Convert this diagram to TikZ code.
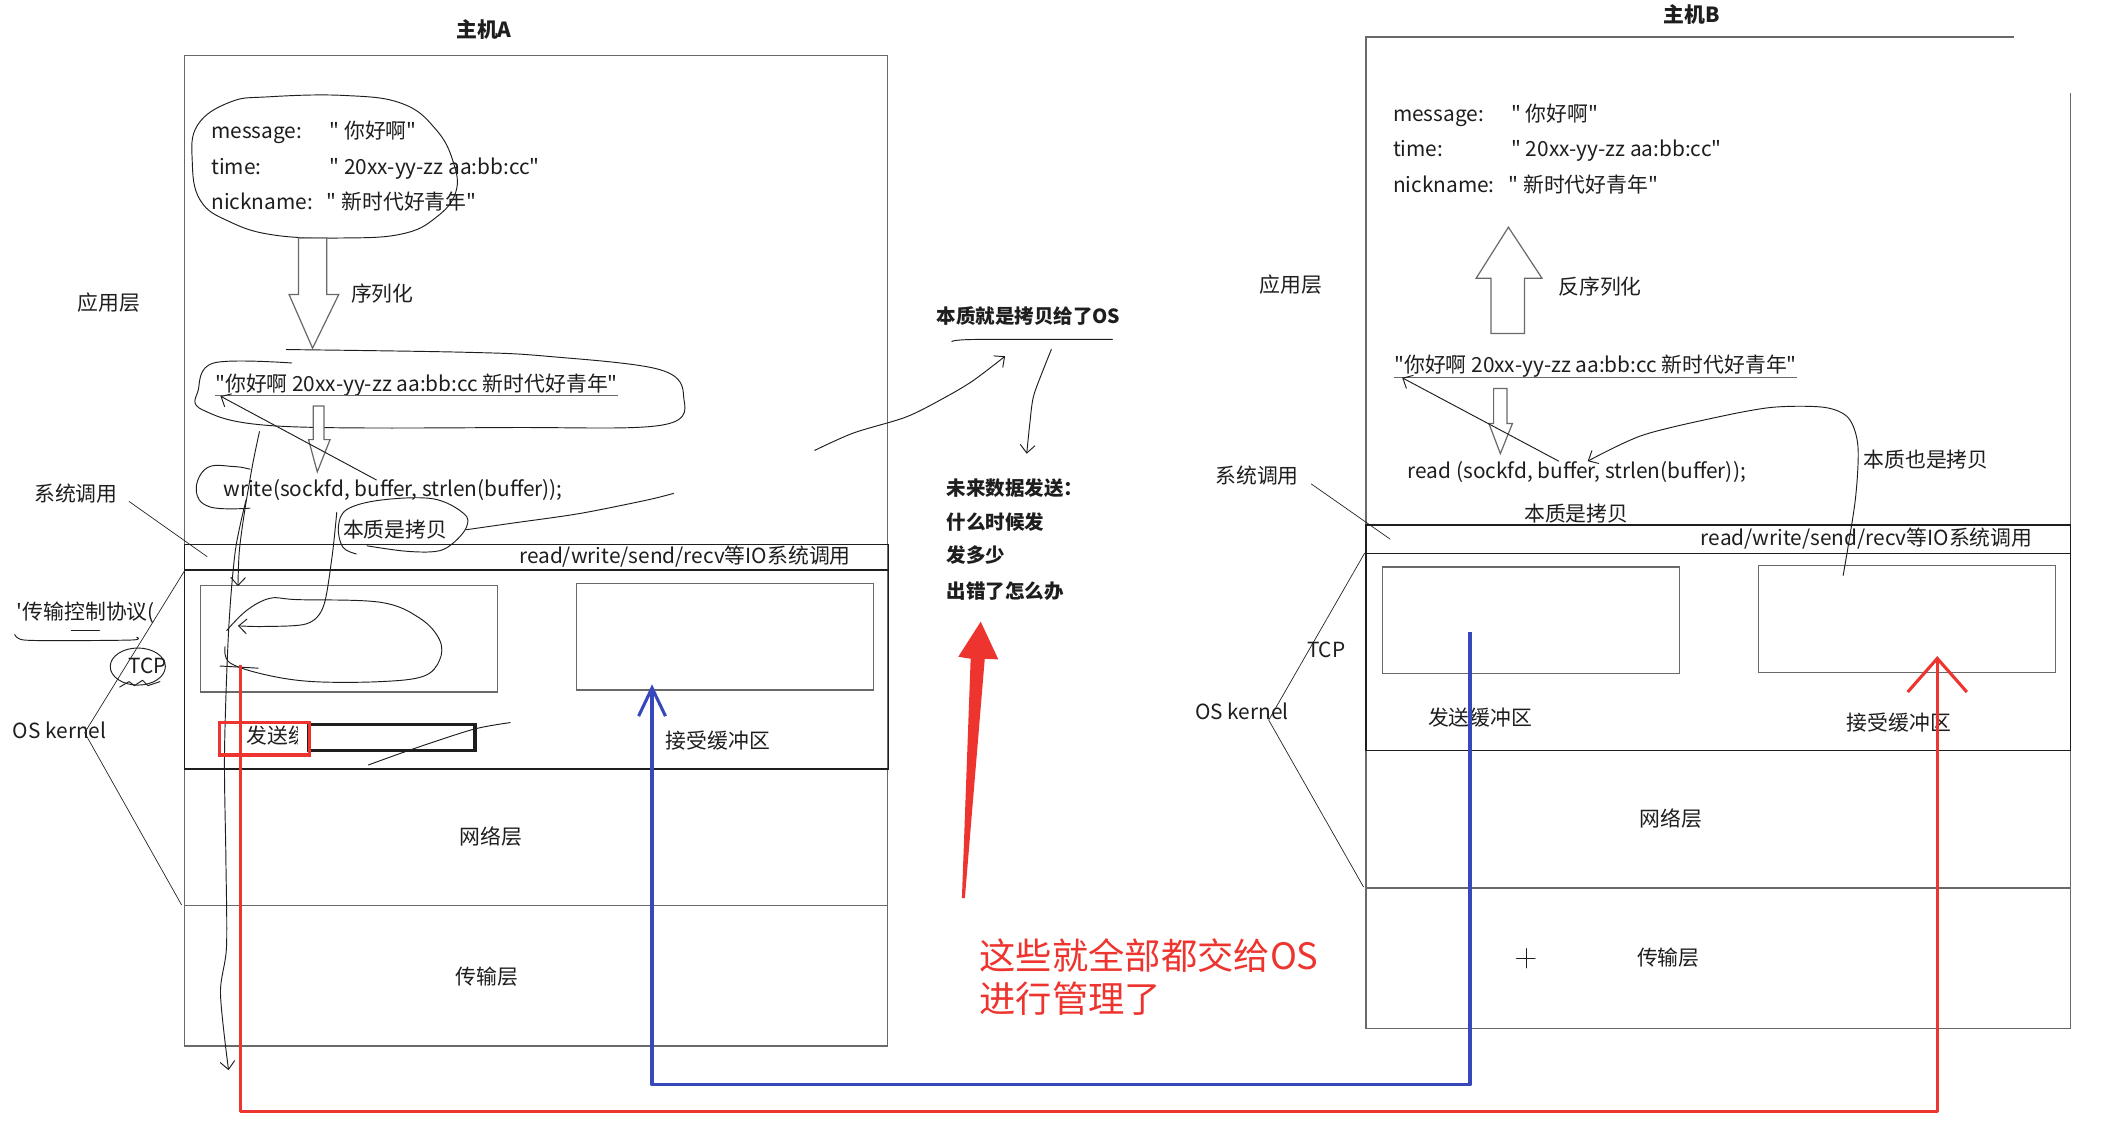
\documentclass[tikz,border=0pt]{standalone}
\usepackage{fontspec}
\setmainfont{Noto Sans CJK SC}[Ligatures=TeXOff]
\usepackage{tikz}
\usetikzlibrary{arrows.meta,positioning}
\definecolor{osred}  {RGB}{238, 52, 46}
\definecolor{osblue} {RGB}{ 55, 72,188}
\definecolor{frame}  {RGB}{105,105,105}
\definecolor{ink}    {RGB}{ 30, 30, 30}
\tikzset{
  hostbox/.style={draw=frame,line width=0.9pt},
  layerbox/.style={draw=ink,line width=1pt},
  buf/.style={draw=frame,line width=0.9pt,minimum width=221pt,minimum height=79.5pt,inner sep=0pt},
  lbl/.style={font=\fontsize{15.5}{18}\selectfont,text=ink,inner sep=0pt,
              text height=12.5pt,text depth=2.5pt},
  lblw/.style={lbl,anchor=west},
  ttl/.style={lbl,font=\fontsize{15.5}{18}\selectfont\bfseries},
  note/.style={lblw,font=\fontsize{14.5}{17}\selectfont\bfseries,text height=11.5pt,text depth=2.5pt},
  redtxt/.style={anchor=west,inner sep=0pt,text=osred,font=\fontsize{27}{32}\selectfont,
                 text height=22pt,text depth=4pt},
  hand/.style={draw=ink,line width=0.7pt,line cap=round,line join=round},
  handarr/.style={hand,-{Straight Barb[length=6pt,width=11pt]}},
  hollow/.style={draw=frame,fill=white,line width=0.9pt,line join=miter},
  redpath/.style={draw=osred,line width=2.3pt,line join=round,
                  -{Straight Barb[length=25pt,width=44pt]}},
  bluepath/.style={draw=osblue,line width=2.3pt,line join=round,
                   -{Straight Barb[length=21pt,width=20pt]}},
}

\begin{document}
\begin{tikzpicture}[x=1pt,y=-1pt]
  \useasboundingbox (0,0) rectangle (1568,839);
  \fill[white] (0,0) rectangle (1568,839);

  % Host A frame and layers
  \node[ttl](titleA) at (360,23) {主机A};
  \draw[hostbox] (137,41) rectangle (660,778);
  \draw[layerbox] (137,405) rectangle (661,424);
  \draw[layerbox] (137,424) rectangle (661,572);
  \draw[hostbox] (137,673.5) -- (660,673.5);
  \node[buf](sendA) at (259.4,475) {};
  \node[buf](recvA) at (539.4,473.5) {};

  % Host A application layer
  \node[lblw](msgA)   at (157,98)    {message:};
  \node[lblw](msgAv)  at (245,98)    {" 你好啊"};
  \node[lblw](timeA)  at (157,125)   {time:};
  \node[lblw](timeAv) at (245,125)   {" 20xx-yy-zz aa:bb:cc"};
  \node[lblw](nickA)  at (157,151)   {nickname:};
  \node[lblw](nickAv) at (243,151)   {" 新时代好青年"};
  \draw[hand] plot[smooth cycle,tension=0.7] coordinates {(200,72) (256,71) (299,77) (324,96) (337,120)
    (339,143) (324,162) (299,174) (256,177) (205,175) (171,165) (149,149) (143,120) (147,93) (171,76)};
  \draw[hollow] (222,177) -- (243,177) -- (243,219) -- (252,219) -- (232.5,259) -- (215,219) -- (222,219) -- cycle;
  \node[lblw](serA) at (261,219) {序列化};

  \node[lblw](strA) at (160,286) {"你好啊 20xx-yy-zz aa:bb:cc 新时代好青年"};
  \draw[frame,line width=0.8pt] ([yshift=-0.5pt]strA.south west) -- ([yshift=-0.5pt]strA.south east);
  \draw[hand] plot[smooth,tension=0.6] coordinates {(217,270) (159,270) (147.5,290) (151,305) (208,317)
    (382,318) (493.5,316) (508.5,295) (491,275) (407,265) (345,262) (213,260)};
  \draw[hollow] (233,302) -- (241,302) -- (241,327) -- (245.5,327) -- (236,351) -- (229.5,327) -- (233,327) -- cycle;

  \node[lblw](writeA) at (166,364.5) {write(sockfd, buffer, strlen(buffer));};
  \coordinate (bufA) at (280,357);
  \draw[handarr] (bufA) -- ([xshift=4pt,yshift=-1pt]strA.south west);
  \draw[hand] plot[smooth,tension=0.7] coordinates {(186,349) (173.6,347) (154,348) (146,364.5) (156,377) (186,378)};

  \node[lblw](essA) at (255,395) {本质是拷贝};
  \draw[hand] plot[smooth,tension=0.6] coordinates {(265,412) (255,407) (251.7,392) (258,379) (283,372)
    (322,371) (345,382) (347,392) (337,404) (325,410) (302,410) (273,406)};
  \draw[hand] plot[smooth] coordinates {(347,394) (382,389) (431,382) (481,372) (501,367)};

  % Host A scribbles into the send buffer
  \draw[handarr] plot[smooth] coordinates {(193,321) (188,345) (182,380) (178,410) (177,436)};
  \draw[handarr] plot[smooth] coordinates {(183,372) (175,410) (170,470) (167,560) (168,637)
    (168.5,704) (164,739) (170,796)};
  \draw[handarr] plot[smooth] coordinates {(250.5,381) (247,414) (240.6,451) (228,464) (196,466) (177,465.5)};
  \draw[hand] plot[smooth,tension=0.6] coordinates {(168.6,469) (183.5,454) (201,445) (221,446) (283,448)
    (312.5,460) (327,476) (327,491) (315,503) (283,507) (233,507) (198,502) (171,493) (167.4,481)};
  \draw[hand] (163.7,495.4) -- (192,497);

  % Host A kernel labels
  \node[lblw](sendlblA) at (183.5,548) {发送缓冲区};
  \fill[white] (222,539) rectangle (231,560);
  \draw[ink,fill=white,line width=2.6pt] (230,539) rectangle (353.4,558.4);
  \draw[osred,line width=2.3pt] (163,537.5) rectangle (230,561.6);
  \draw[hand] plot[smooth] coordinates {(274,569) (307.5,557) (352,542.5) (379.5,537.5)};
  \node[lbl](recvlblA) at (534,552)   {接受缓冲区};
  \node[lbl,anchor=east](ioA) at (633,414.5) {read/write/send/recv等IO系统调用};
  \node[lbl](netA)  at (365,623.5) {网络层};
  \node[lbl](tranA) at (362,727)   {传输层};

  % Host A side notes
  \node[lbl](appA)  at (81,226)   {应用层};
  \node[lbl](sysA)  at (56.5,368) {系统调用};
  \draw[hand,line width=0.5pt] (96,373) -- (154,414);
  \node[lblw](tcpfullA) at (12.4,456) {'传输控制协议(};
  \draw[hand] plot[smooth] coordinates {(11,472) (17.4,476) (49.6,476.5) (99,476) (101.7,474)};
  \draw[hand] (53,469) -- (74,469);
  \node[lblw](tcpA) at (95.5,496) {TCP};
  \draw[hand] (102.5,495.8) ellipse (20.5pt and 13.8pt);
  \draw[hand] (89,511) -- (96,507) -- (100,510) -- (106,506) -- (110,510) -- (119,507);
  \node[lblw](kernA) at (9.4,544) {OS kernel};
  \draw[hand,line width=0.5pt] (137.6,424) -- (63,545) -- (135,673);

  % Middle notes
  \node[ttl,font=\fontsize{14.5}{17}\selectfont\bfseries](copyOS) at (765,235.6) {本质就是拷贝给了OS};
  \draw[hand] plot[smooth] coordinates {(708,254) (725,252.5) (827.5,252.5)};
  \draw[handarr] plot[smooth] coordinates {(606,335) (635,322) (674.4,310) (704,295) (724,283) (747.6,265)};
  \draw[handarr] plot[smooth] coordinates {(782,260) (776,275) (768.7,295) (766,315) (763.7,337.5)};
  \node[note](future) at (704,364) {未来数据发送：};
  \node[note](when)   at (704,389) {什么时候发};
  \node[note](much)   at (704,414) {发多少};
  \node[note](err)    at (704,441) {出错了怎么办};
  \fill[osred] (715.5,668) -- (722,490) -- (712.8,488.5) -- (729.5,462.4) -- (742.6,490.5)
    -- (732.5,490) -- (717.7,668) -- cycle;
  \node[redtxt](handoff)  at (728.5,712) {这些就全部都交给OS};
  \node[redtxt](handoff2) at (728.5,744) {进行管理了};

  % Host B frame and layers
  \node[ttl](titleB) at (1258.5,12) {主机B};
  \draw[hostbox] (1498,27.5) -- (1016,27.5) -- (1016,765) -- (1540,765) -- (1540,69);
  \draw[layerbox] (1016,390.6) rectangle (1540,411.5);
  \draw[layerbox] (1016,411.5) rectangle (1540,558);
  \draw[hostbox] (1016,660.5) -- (1540,660.5);
  \node[buf](sendB) at (1139,461.5) {};
  \node[buf](recvB) at (1418.7,460.3) {};

  % Host B application layer
  \node[lblw](msgB)   at (1036,85)    {message:};
  \node[lblw](msgBv)  at (1124,85)    {" 你好啊"};
  \node[lblw](timeB)  at (1036,111.6) {time:};
  \node[lblw](timeBv) at (1124,111.6) {" 20xx-yy-zz aa:bb:cc"};
  \node[lblw](nickB)  at (1036,138)   {nickname:};
  \node[lblw](nickBv) at (1122,138)   {" 新时代好青年"};
  \draw[hollow] (1109,248) -- (1134,248) -- (1134,207) -- (1147,207) -- (1122,169) -- (1098,207) -- (1109,207) -- cycle;
  \node[lblw](deserB) at (1159,214) {反序列化};
  \node[lblw](strB) at (1037,272.3) {"你好啊 20xx-yy-zz aa:bb:cc 新时代好青年"};
  \draw[frame,line width=0.8pt] ([yshift=-0.5pt]strB.south west) -- ([yshift=-0.5pt]strB.south east);
  \draw[hollow] (1111,289) -- (1121,289) -- (1121,315) -- (1125,315) -- (1116,337.4) -- (1107.5,315) -- (1111,315) -- cycle;
  \node[lblw](readB) at (1047,350.7) {read (sockfd, buffer, strlen(buffer));};
  \coordinate (bufB)  at (1159.4,343);
  \coordinate (bufB2) at (1181,343);
  \coordinate (recvtop) at (1371,428);
  \draw[handarr] (bufB) -- ([xshift=6pt,yshift=-1pt]strB.south west);
  \draw[handarr] plot[smooth] coordinates {(recvtop) (1380,372) (1382,332) (1375,311) (1357,303)
    (1318,303) (1274,311) (1221,324) (bufB2)};
  \node[lblw](alsoB) at (1386,343)   {本质也是拷贝};
  \node[lbl](essB)   at (1172.5,382.6) {本质是拷贝};

  % Host B kernel labels
  \node[lbl,anchor=east](ioB) at (1512,401) {read/write/send/recv等IO系统调用};
  \node[lbl](sendlblB) at (1101,535)    {发送缓冲区};
  \node[lbl](recvlblB) at (1412.5,538)  {接受缓冲区};
  \node[lbl](netB)     at (1243,609.5)  {网络层};
  \node[lbl](tranB)    at (1241,713.5)  {传输层};
  \draw[hand,line width=0.5pt] (1128,712.7) -- (1142,712.7) (1135,705.5) -- (1135,720);

  % Host B side notes
  \node[lbl](appB) at (960,212.6) {应用层};
  \node[lbl](sysB) at (935,354.7) {系统调用};
  \draw[hand,line width=0.5pt] (975.4,360) -- (1034,401);
  \node[lblw](tcpB)  at (972,484)   {TCP};
  \node[lblw](kernB) at (888.7,530) {OS kernel};
  \draw[hand,line width=0.5pt] (1015,411.5) -- (943.7,535.6) -- (1014.2,659.7);

  % Data paths between hosts
  \coordinate (blueS) at (1093.4,470);
  \coordinate (blueC) at (485,807);
  \coordinate (blueE) at (485,509);
  \draw[bluepath] (blueS) |- (blueC) -- (blueE);
  \coordinate (redS) at (179,495);
  \coordinate (redC) at (1441,827);
  \coordinate (redE) at (1441,488);
  \draw[redpath] (redS) |- (redC) -- (redE);
\end{tikzpicture}
\end{document}
